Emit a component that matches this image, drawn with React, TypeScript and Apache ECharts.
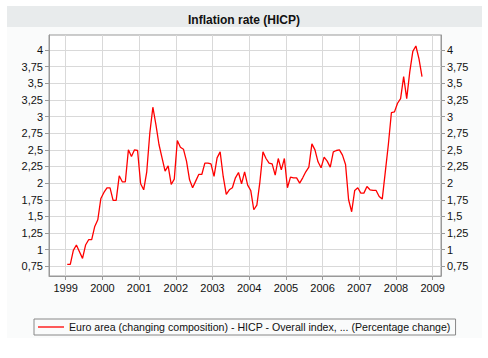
import React, { useEffect, useRef } from 'react';
import * as echarts from 'echarts';

const TITLE = 'Inflation rate (HICP)';
const SERIES_NAME = 'Euro area (changing composition) - HICP - Overall index, ... (Percentage change)';

const startYear = 1999;
const values1999 = [0.78, 0.78, 0.99, 1.07, 0.97, 0.87, 1.07, 1.15, 1.15, 1.35, 1.45, 1.77];
const values2000 = [1.86, 1.93, 1.93, 1.74, 1.74, 2.11, 2.02, 2.02, 2.5, 2.4, 2.5, 2.49];
const values2001 = [1.99, 1.9, 2.17, 2.75, 3.14, 2.88, 2.58, 2.38, 2.18, 2.26, 1.98, 2.06];
const values2002 = [2.64, 2.54, 2.51, 2.33, 2.05, 1.93, 2.03, 2.13, 2.13, 2.3, 2.3, 2.29];
const values2003 = [2.1, 2.38, 2.47, 2.1, 1.83, 1.9, 1.93, 2.08, 2.16, 1.99, 2.17, 1.97];
const values2004 = [1.89, 1.6, 1.67, 2.02, 2.47, 2.37, 2.3, 2.29, 2.12, 2.37, 2.2, 2.37];
const values2005 = [1.93, 2.09, 2.08, 2.08, 2.0, 2.08, 2.17, 2.24, 2.59, 2.5, 2.32, 2.23];
const values2006 = [2.39, 2.33, 2.24, 2.47, 2.49, 2.5, 2.42, 2.28, 1.75, 1.57, 1.89, 1.93];
const values2007 = [1.85, 1.85, 1.95, 1.9, 1.89, 1.89, 1.8, 1.76, 2.17, 2.58, 3.06, 3.07];
const values2008 = [3.2, 3.27, 3.6, 3.27, 3.67, 3.98, 4.06, 3.87, 3.6];

const inflation = [
  ...values1999, ...values2000, ...values2001, ...values2002, ...values2003,
  ...values2004, ...values2005, ...values2006, ...values2007, ...values2008,
];

const yearTicks = [1999, 2000, 2001, 2002, 2003, 2004, 2005, 2006, 2007, 2008, 2009];
const yTicks = [0.75, 1, 1.25, 1.5, 1.75, 2, 2.25, 2.5, 2.75, 3, 3.25, 3.5, 3.75, 4];
const yMin = 0.605;
const yMax = 4.225;
const xMin = 1998.545;
const xMax = 2009.226;

const FONT = '"Liberation Sans", Arial, sans-serif';

export default function App() {
  const ref = useRef<HTMLDivElement>(null);

  useEffect(() => {
    const chart = echarts.init(ref.current!, null, { renderer: 'svg' });
    // monthly observations, placed at mid-month on a decimal-year axis
    const data = inflation.map((v, i) => {
      const y = startYear + Math.floor(i / 12);
      const m = i % 12;
      return [y + (m + 0.5) / 12, v];
    });
    const fmtY = (v: number) => String(v).replace('.', ',');

    const yAxisCommon = {
      type: 'value',
      min: yMin,
      max: yMax,
      axisLine: { show: true, lineStyle: { color: '#999', width: 1 } },
      axisTick: { show: true, length: 4, lineStyle: { color: '#999' }, customValues: yTicks },
      splitLine: { show: true, lineStyle: { color: '#d9d9d9', width: 1 } },
      axisLabel: {
        customValues: yTicks,
        formatter: fmtY,
        color: '#111',
        fontSize: 11,
        fontFamily: FONT,
        margin: 6,
      },
    };

    chart.setOption({
      animation: false,
      textStyle: { fontFamily: FONT },
      graphic: [
        {
          type: 'rect',
          z: -10,
          shape: { x: 7, y: 27, width: 475, height: 311 },
          style: { fill: '#fafbfb' },
        },
        {
          type: 'rect',
          z: -10,
          shape: { x: 7, y: 6, width: 475, height: 21 },
          style: { fill: '#e8ebec' },
        },
      ],
      title: {
        text: TITLE,
        left: 'center',
        top: 9,
        textStyle: { fontSize: 12, fontWeight: 'bold', color: '#111', fontFamily: FONT },
      },
      grid: {
        left: 49,
        right: 47,
        top: 35,
        bottom: 82,
        show: true,
        backgroundColor: '#ffffff',
        borderColor: '#999',
        borderWidth: 1,
      },
      legend: {
        left: 34,
        top: 319,
        padding: [2, 5, 2, 4],
        borderColor: '#888',
        borderWidth: 1,
        icon: 'rect',
        itemWidth: 26,
        itemHeight: 1.3,
        textStyle: { fontSize: 10.6, color: '#111', fontFamily: FONT, lineHeight: 12 },
        data: [SERIES_NAME],
      },
      xAxis: {
        type: 'value',
        min: xMin,
        max: xMax,
        axisLine: { show: true, lineStyle: { color: '#999' } },
        axisTick: { show: true, length: 4, lineStyle: { color: '#999' }, customValues: yearTicks },
        splitLine: { show: true, lineStyle: { color: '#d9d9d9', width: 1 } },
        axisLabel: {
          customValues: yearTicks,
          formatter: (v: number) => String(v),
          color: '#111',
          fontSize: 11,
          fontFamily: FONT,
          margin: 6,
        },
      },
      yAxis: [
        { ...yAxisCommon, position: 'left' },
        { ...yAxisCommon, position: 'right', splitLine: { show: false } },
      ],
      series: [
        {
          name: SERIES_NAME,
          type: 'line',
          data,
          symbol: 'none',
          showSymbol: false,
          lineStyle: { color: '#ff0000', width: 1.3 },
          itemStyle: { color: '#ff0000' },
        },
      ],
    });
    return () => chart.dispose();
  }, []);

  return (
    <div
      ref={ref}
      style={{ position: 'absolute', left: 0, top: 0, width: 488, height: 358 }}
    />
  );
}
